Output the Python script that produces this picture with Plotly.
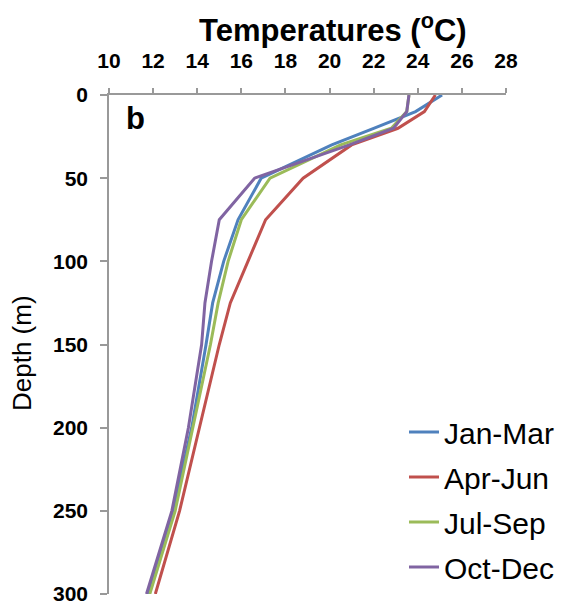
import plotly.graph_objects as go

depths = [0, 10, 20, 30, 50, 75, 100, 125, 150, 200, 250, 300]
jan_mar = [25.1, 23.9, 22.0, 20.1, 16.9, 15.85, 15.2, 14.7, 14.4, 13.75, 12.9, 11.8]
apr_jun = [24.8, 24.3, 23.1, 21.0, 18.8, 17.1, 16.3, 15.5, 15.0, 14.1, 13.2, 12.1]
jul_sep = [23.6, 23.5, 22.8, 20.5, 17.3, 16.0, 15.4, 14.95, 14.6, 13.8, 13.0, 11.85]
oct_dec = [23.6, 23.5, 22.9, 20.9, 16.6, 15.0, 14.65, 14.35, 14.2, 13.6, 12.85, 11.7]

series = [
    ("Jan-Mar", jan_mar, "#4F81BD"),
    ("Apr-Jun", apr_jun, "#C0504D"),
    ("Jul-Sep", jul_sep, "#9BBB59"),
    ("Oct-Dec", oct_dec, "#8064A2"),
]

x_ticks = list(range(10, 29, 2))
y_ticks = list(range(0, 301, 50))

FONT = "Liberation Sans, Arial, sans-serif"

W, H = 578, 604
L, R, T, B = 109, 72, 95, 10
pw, ph = W - L - R, H - T - B


def px_to_paper(px, py):
    return (px - L) / pw, 1 - (py - T) / ph


fig = go.Figure()
for name, vals, col in series:
    fig.add_trace(go.Scatter(
        x=vals, y=depths, mode="lines", name=name,
        line=dict(color=col, width=3),
        legendgroup=name,
    ))

lx, ly = px_to_paper(404, 406)

ann = []
bx, by = px_to_paper(135, 118)
ann.append(dict(text="<b>b</b>", x=bx, y=by, xref="paper", yref="paper",
                xanchor="center", yanchor="middle", showarrow=False,
                font=dict(family=FONT, size=31, color="black")))
tx, ty = px_to_paper(333, 28)
ann.append(dict(text="<b>Temperatures (<sup>o</sup>C)</b>", x=tx, y=ty,
                xref="paper", yref="paper", xanchor="center", yanchor="middle",
                showarrow=False, font=dict(family=FONT, size=31, color="black")))
dx, dy = px_to_paper(22, 353)
ann.append(dict(text="Depth (m)", x=dx, y=dy, xref="paper", yref="paper",
                xanchor="center", yanchor="middle", textangle=-90,
                showarrow=False, font=dict(family=FONT, size=26, color="black")))

fig.update_layout(
    width=W, height=H,
    margin=dict(l=L, r=R, t=T, b=B),
    paper_bgcolor="white", plot_bgcolor="white",
    font=dict(family=FONT, color="black"),
    showlegend=True,
    legend=dict(
        x=lx, y=ly, xanchor="left", yanchor="top",
        xref="paper", yref="paper",
        font=dict(family=FONT, size=30, color="black"),
        bgcolor="rgba(0,0,0,0)", itemwidth=30, tracegroupgap=3,
    ),
    xaxis=dict(
        side="top", range=[10, 28], tickvals=x_ticks,
        ticks="outside", ticklen=5, tickcolor="#999999", tickwidth=1.5,
        showline=True, linecolor="#999999", linewidth=1.5,
        showgrid=False, zeroline=False, automargin=False,
        tickfont=dict(family=FONT, size=21, color="black", weight="bold"),
        ticklabelstandoff=12,
    ),
    yaxis=dict(
        range=[300, 0], tickvals=y_ticks,
        ticks="outside", ticklen=7, tickcolor="#999999", tickwidth=1.5,
        showline=True, linecolor="#999999", linewidth=1.5,
        showgrid=False, zeroline=False, automargin=False,
        tickfont=dict(family=FONT, size=21, color="black", weight="bold"),
        ticklabelstandoff=8, ticklabeloverflow="allow",
    ),
    annotations=ann,
)

fig.write_html("out.html")
